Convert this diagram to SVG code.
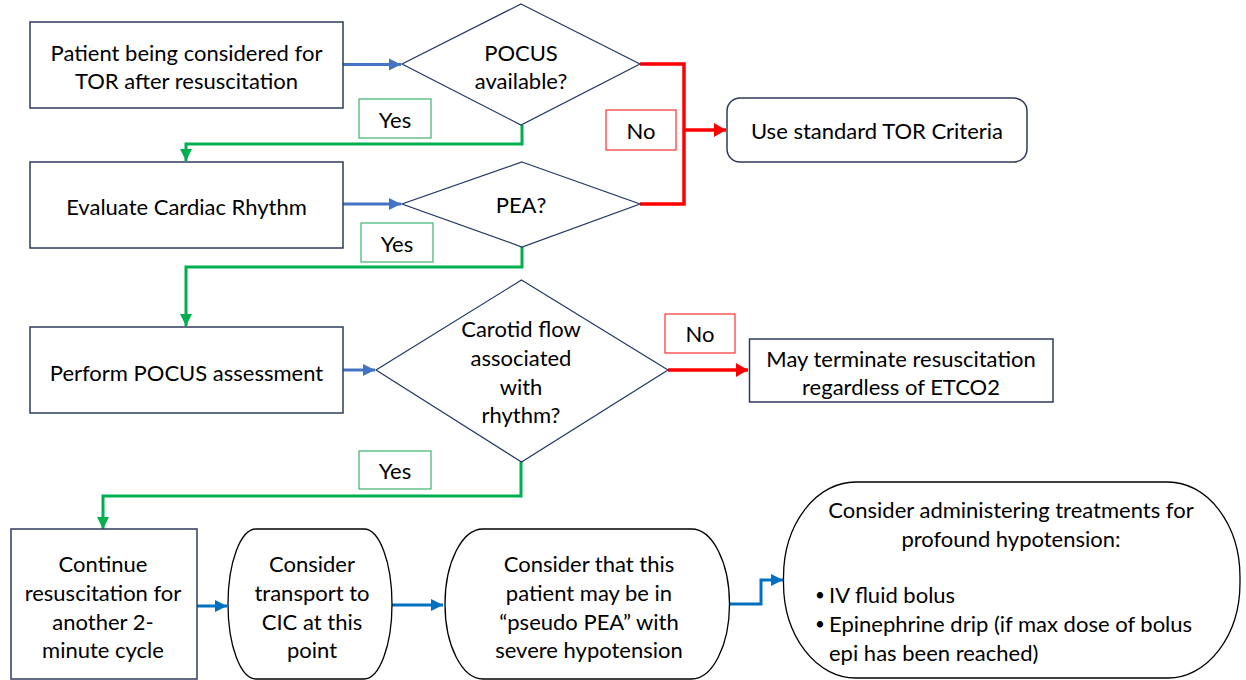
<svg xmlns="http://www.w3.org/2000/svg" width="1246" height="680" viewBox="0 0 1246 680">
<defs>
<style>
.box{fill:#fff;stroke:#2F3B5C;stroke-width:1.5}
.dia{fill:#fff;stroke:#203864;stroke-width:1.2}
.term{fill:#fff;stroke:#000;stroke-width:1.3}
.t{font-family:Lato,"Liberation Sans",sans-serif;font-size:22px;fill:#000;text-anchor:middle;dominant-baseline:central}
.tl{font-family:Lato,"Liberation Sans",sans-serif;font-size:22px;fill:#000;dominant-baseline:central}
.bl{font-family:Lato,"Liberation Sans",sans-serif;font-size:17px;fill:#000;dominant-baseline:central}
.yes{fill:#fff;stroke:#3CB371;stroke-width:1.2}
.no{fill:#fff;stroke:#FF3030;stroke-width:1.2}
.g{fill:none;stroke:#00B050;stroke-width:3}
.r{fill:none;stroke:#FF0000;stroke-width:3.5}
.b1{fill:none;stroke:#4472C4;stroke-width:3}
.b2{fill:none;stroke:#0070C0;stroke-width:3}
</style>
<marker id="ag" markerUnits="userSpaceOnUse" markerWidth="14" markerHeight="14" refX="12" refY="7" orient="auto"><path d="M0,1 L12,7 L0,13 Z" fill="#00B050"/></marker>
<marker id="ar" markerUnits="userSpaceOnUse" markerWidth="14" markerHeight="16" refX="12" refY="8" orient="auto"><path d="M0,1 L12,8 L0,15 Z" fill="#FF0000"/></marker>
<marker id="ab1" markerUnits="userSpaceOnUse" markerWidth="14" markerHeight="14" refX="12" refY="7" orient="auto"><path d="M0,1 L12,7 L0,13 Z" fill="#4472C4"/></marker>
<marker id="ab2" markerUnits="userSpaceOnUse" markerWidth="14" markerHeight="14" refX="12" refY="7" orient="auto"><path d="M0,1 L12,7 L0,13 Z" fill="#0070C0"/></marker>
</defs>
<rect width="1246" height="680" fill="#fff"/>

<g id="connectors">
<path class="b1" d="M343,64.5 L401,64.5" marker-end="url(#ab1)"/>
<path class="b1" d="M343,204 L401,204" marker-end="url(#ab1)"/>
<path class="b1" d="M343,370 L375,370" marker-end="url(#ab1)"/>
<path class="g" d="M522,125 L522,144 L186,144 L186,161" marker-end="url(#ag)"/>
<path class="g" d="M522,247 L522,267 L186,267 L186,326" marker-end="url(#ag)"/>
<path class="g" d="M521,462 L521,496 L103,496 L103,529" marker-end="url(#ag)"/>
<path class="r" d="M640,64 L684,64 L684,204 L640,204"/>
<path class="r" d="M684,130 L726,130" marker-end="url(#ar)"/>
<path class="r" d="M668,370 L748,370" marker-end="url(#ar)"/>
<path class="b2" d="M197,606 L227,606" marker-end="url(#ab2)"/>
<path class="b2" d="M392,605 L443,605" marker-end="url(#ab2)"/>
<path class="b2" d="M729,604 L761,604 L761,580 L783,580" marker-end="url(#ab2)"/>
</g>

<g id="start">
<rect class="box" x="30" y="22" width="313" height="86"/>
<text class="t" x="186.5" y="52">Patient being considered for</text>
<text class="t" x="186.5" y="80">TOR after resuscitation</text>
</g>

<g id="pocus-available">
<path class="dia" d="M521,4 L640,64 L521,125 L402,64 Z"/>
<text class="t" x="521" y="52">POCUS</text>
<text class="t" x="521" y="80">available?</text>
</g>

<g id="yes1">
<rect class="yes" x="359" y="99" width="72" height="39"/>
<text class="t" x="395" y="119">Yes</text>
</g>

<g id="no1">
<rect class="no" x="606" y="110" width="70" height="40"/>
<text class="t" x="641" y="130">No</text>
</g>

<g id="standard-tor">
<rect class="box" x="727" y="98" width="300" height="64" rx="13"/>
<text class="t" x="877" y="130">Use standard TOR Criteria</text>
</g>

<g id="evaluate-rhythm">
<rect class="box" x="30" y="162" width="313" height="86"/>
<text class="t" x="186.5" y="206">Evaluate Cardiac Rhythm</text>
</g>

<g id="pea">
<path class="dia" d="M522,162 L640,204 L522,247 L402,204 Z"/>
<text class="t" x="521" y="204">PEA?</text>
</g>

<g id="yes2">
<rect class="yes" x="361" y="223" width="72" height="39"/>
<text class="t" x="397" y="243">Yes</text>
</g>

<g id="pocus-assessment">
<rect class="box" x="30" y="327" width="313" height="86"/>
<text class="t" x="186.5" y="372">Perform POCUS assessment</text>
</g>

<g id="carotid-flow">
<path class="dia" d="M521.5,280 L668,370 L521.5,462 L376,370 Z"/>
<text class="t" x="521" y="328">Carotid flow</text>
<text class="t" x="521" y="357">associated</text>
<text class="t" x="521" y="386">with</text>
<text class="t" x="521" y="414">rhythm?</text>
</g>

<g id="no3">
<rect class="no" x="665" y="314" width="70" height="39"/>
<text class="t" x="700" y="333">No</text>
</g>

<g id="terminate">
<rect class="box" x="749.5" y="339" width="303.5" height="63"/>
<text class="t" x="901" y="358">May terminate resuscitation</text>
<text class="t" x="901" y="386">regardless of ETCO2</text>
</g>

<g id="yes3">
<rect class="yes" x="359" y="451" width="72" height="38"/>
<text class="t" x="395" y="470">Yes</text>
</g>

<g id="continue">
<rect class="box" x="11" y="529" width="186" height="150"/>
<text class="t" x="103" y="563">Continue</text>
<text class="t" x="103" y="592">resuscitation for</text>
<text class="t" x="103" y="621">another 2-</text>
<text class="t" x="103" y="649">minute cycle</text>
</g>

<g id="transport">
<rect class="term" x="228" y="529" width="164" height="150" rx="28" ry="75"/>
<text class="t" x="312" y="563">Consider</text>
<text class="t" x="312" y="592">transport to</text>
<text class="t" x="312" y="621">CIC at this</text>
<text class="t" x="312" y="649">point</text>
</g>

<g id="pseudo-pea">
<rect class="term" x="445" y="529" width="284.5" height="150" rx="38" ry="75"/>
<text class="t" x="589" y="563">Consider that this</text>
<text class="t" x="589" y="592">patient may be in</text>
<text class="t" x="589" y="621">“pseudo PEA” with</text>
<text class="t" x="589" y="649">severe hypotension</text>
</g>

<g id="treatments">
<rect class="term" x="783.5" y="482" width="456.5" height="196" rx="72" ry="95"/>
<text class="t" x="1011" y="509">Consider administering treatments for</text>
<text class="t" x="1011" y="538">profound hypotension:</text>
<text class="bl" x="815" y="594">•</text>
<text class="tl" x="829" y="594">IV fluid bolus</text>
<text class="bl" x="815" y="623">•</text>
<text class="tl" x="829" y="623">Epinephrine drip (if max dose of bolus</text>
<text class="tl" x="829" y="652">epi has been reached)</text>
</g>
</svg>
